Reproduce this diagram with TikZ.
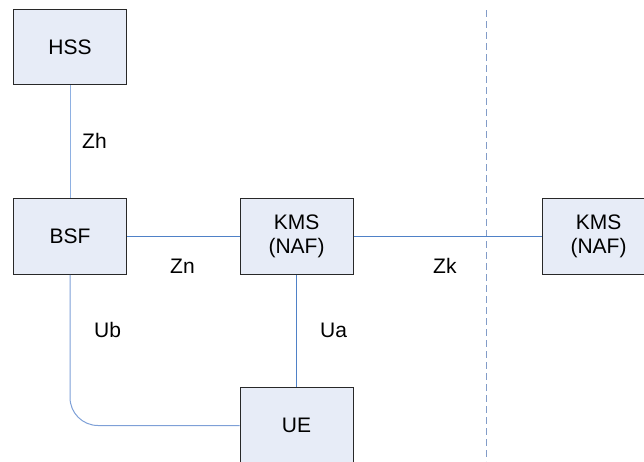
\documentclass[tikz,border=0pt]{standalone}
\usepackage{fontspec}
\setmainfont{Liberation Sans}
\definecolor{boxfill}{RGB}{231,236,247}
\definecolor{boxdraw}{RGB}{40,40,40}
\definecolor{linkA}{RGB}{142,176,226}
\definecolor{linkB}{RGB}{79,129,199}
\definecolor{linkC}{RGB}{126,160,215}
\definecolor{sepline}{RGB}{130,156,200}
\tikzset{
  entity/.style={draw=boxdraw, line width=1pt, fill=boxfill, minimum width=113pt, minimum height=75.5pt, inner sep=0pt, align=center, font=\fontsize{21}{24}\selectfont},
  link/.style={line width=1pt},
  lbl/.style={anchor=base west, inner sep=0pt, font=\fontsize{21}{24}\selectfont},
  sep/.style={draw=sepline, line width=1pt, dash pattern=on 7pt off 4pt}
}
\begin{document}
\begin{tikzpicture}[x=1pt,y=-1pt]
\useasboundingbox (0,0) rectangle (644,461);
\coordinate (dtop) at (486,10);
\coordinate (dbot) at (486,461);
\draw[sep] (dtop) -- (dbot);
\node[entity] (hss) at (70,47.2) {HSS};
\node[entity] (bsf) at (70,236.5) {BSF};
\node[entity] (kms) at (296.5,236.5) {KMS\\(NAF)};
\node[entity] (kms2) at (598.5,236.5) {KMS\\(NAF)};
\node[entity] (ue) at (296.5,425.5) {UE};
\draw[link, draw=linkA] (hss.south) -- (bsf.north);
\draw[link, draw=linkB] (bsf.east) -- (kms.west);
\draw[link, draw=linkB] (kms.east) -- (kms2.west);
\draw[link, draw=linkB] (kms.south) -- (ue.north);
\draw[link, draw=linkC, rounded corners=28pt] (bsf.south) |- (ue.west);
\node[lbl] (zh) at (82,148) {Zh};
\node[lbl] (zn) at (170,273) {Zn};
\node[lbl] (zk) at (433,273) {Zk};
\node[lbl] (ub) at (94,337) {Ub};
\node[lbl] (ua) at (320,337) {Ua};
\end{tikzpicture}
\end{document}
